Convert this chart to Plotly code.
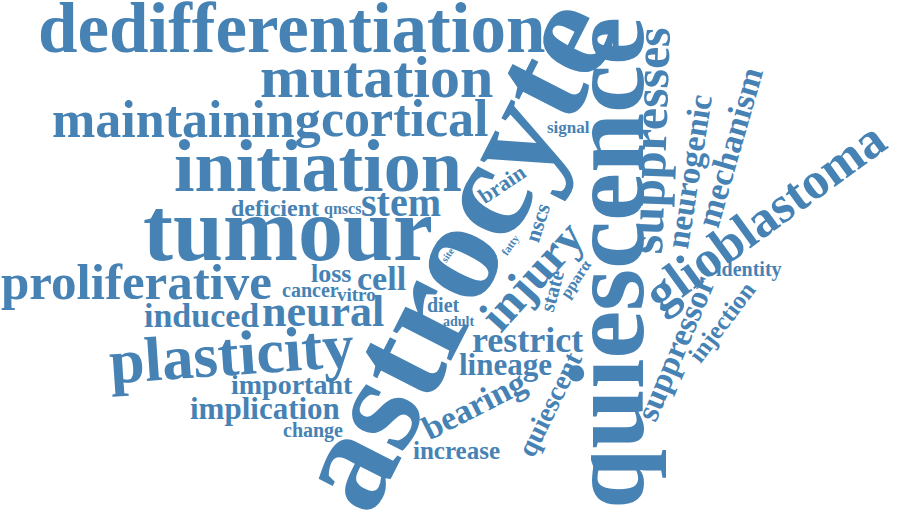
import plotly.graph_objects as go

# Word cloud data: words and their weights
words = ['astrocyte', 'quiescence', 'tumour', 'initiation', 'dedifferentiation', 'plasticity',
         'mutation', 'glioblastoma', 'maintaining', 'cortical', 'proliferative', 'suppresses',
         'injury', 'neural', 'stem', 'restrict', 'induced', 'cell', 'bearing', 'mechanism',
         'neurogenic', 'suppressor', 'implication', 'lineage', 'important', 'quiescent', 'loss',
         'increase', 'injection', 'deficient', 'brain', 'nscs', 'state', 'identity', 'diet',
         'change', 'cancer', 'vitro', 'signal', 'qnscs', 'pparα', 'adult', 'fatty', 'site']
weights = [35.5, 27, 22.5, 18.5, 17.75, 15.75,
           15, 13, 13, 13, 12.75, 12.5,
           12, 11, 10, 9, 8.5, 8.5, 8.5, 8.5,
           8.25, 8.25, 7.75, 7.75, 7, 7, 6.5,
           6.25, 6.25, 6, 5.5, 5.5, 5.25, 5, 5,
           5, 5, 4.75, 4.25, 4, 4, 3.5, 2.75, 2.5]

# Layout of the cloud (pixel space of a 900x521 canvas)
x_pos = [452, 606, 288, 318, 291, 231,
         376, 764, 186, 404, 136, 649,
         531, 323, 401, 527, 201, 381, 473, 729,
         689, 675, 265, 505, 292, 549, 331,
         456, 721, 275, 501, 537, 552, 749, 443,
         313, 310, 356, 568, 342, 576, 458, 510, 447]
y_pos = [253, 263, 229, 166, 28, 354,
         77, 216, 119, 118, 282, 141,
         275, 311, 202, 340, 315, 278, 405, 147,
         172, 349, 408, 364, 384, 404, 273,
         450, 322, 208, 184, 222, 291, 269, 305,
         430, 290, 294, 127, 209, 279, 321, 245, 255]
angles = [-63, -90, 0, 0, 0, -4,
          0, -36, 0, 0, 0, -88,
          -48, 0, 0, 0, 0, 0, -27, -74,
          -81, -67, 0, 0, 0, -64, 0,
          0, -53, 0, -34, -72, -75, 0, 0,
          0, 0, 0, 0, 0, -56, 0, -55, -55]

COLOR = '#4682B4'
SIZE_SCALE = 4

fig = go.Figure()
for word, w, x, y, a in zip(words, weights, x_pos, y_pos, angles):
    fig.add_annotation(
        x=x, y=y, xref='x', yref='y', text=word, showarrow=False,
        xanchor='center', yanchor='middle', textangle=a,
        font=dict(family='Liberation Serif', size=w * SIZE_SCALE, color=COLOR, weight='bold'),
    )

fig.update_xaxes(range=[0, 900], visible=False, fixedrange=True)
fig.update_yaxes(range=[521, 0], visible=False, fixedrange=True)
fig.update_layout(width=900, height=521, margin=dict(l=0, r=0, t=0, b=0),
                  plot_bgcolor='white', paper_bgcolor='white', showlegend=False)

# drop the page's default body margin so the canvas sits at the top-left corner
fig.write_html('out.html', config={'displayModeBar': False},
               post_script="document.body.style.margin = '0';")
